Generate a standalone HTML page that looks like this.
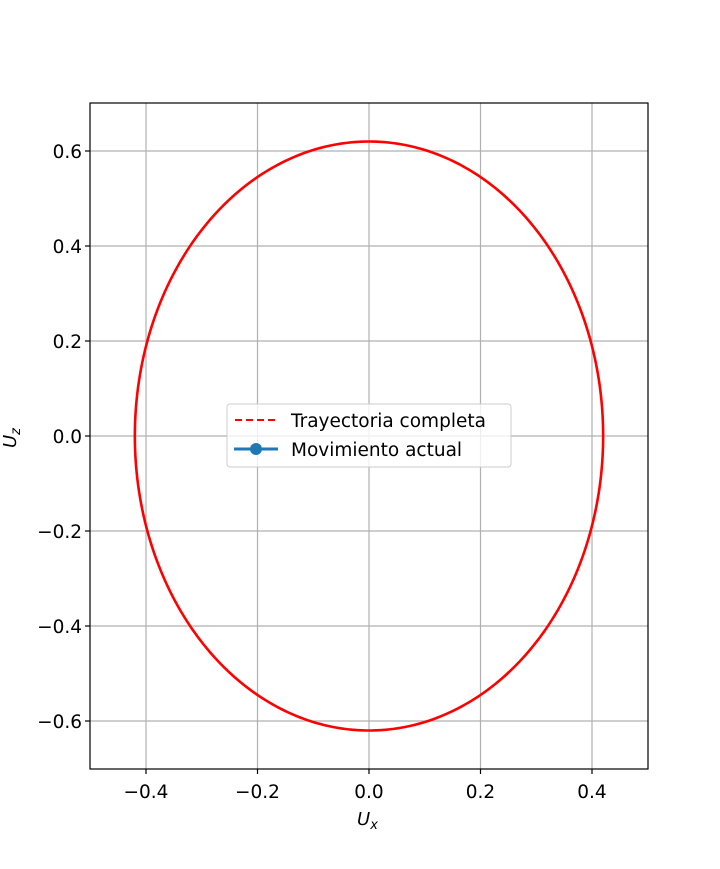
<!DOCTYPE html>
<html><head><meta charset="utf-8"><style>
body{margin:0;background:#fff}
svg text{font-family:"DejaVu Sans","Liberation Sans",sans-serif;font-size:18.5px;fill:#000}
</style></head><body>
<svg id="chart" width="720" height="864" xmlns="http://www.w3.org/2000/svg">
<rect width="720" height="864" fill="#fff"/>
<g id="grid"></g>
<g id="series"></g>
<rect x="90" y="103" width="558" height="666" fill="none" stroke="#000" stroke-width="1.2"/>
<g id="ticks"></g>
<text x="357" y="825" font-style="italic" style="font-size:18px">U<tspan style="font-size:13px" dy="4">x</tspan></text>
<text transform="translate(16,448) rotate(-90)" font-style="italic" style="font-size:18px">U<tspan style="font-size:13px" dy="4">z</tspan></text>
<g>
<rect x="227" y="404" width="284" height="63" rx="3" fill="#fff" fill-opacity="0.8" stroke="#ccc"/>
<line x1="235" y1="420" x2="278" y2="420" stroke="#f00" stroke-width="2" stroke-dasharray="7,4"/>
<text x="291" y="427">Trayectoria completa</text>
<line x1="234" y1="449" x2="278" y2="449" stroke="#1f77b4" stroke-width="3"/>
<circle cx="256" cy="449" r="6" fill="#1f77b4"/>
<text x="291" y="456">Movimiento actual</text>
</g>
</svg>
<script>
const xTicks=[-0.4,-0.2,0.0,0.2,0.4];
const xTickLabels=["−0.4","−0.2","0.0","0.2","0.4"];
const yTicks=[-0.6,-0.4,-0.2,0.0,0.2,0.4,0.6];
const yTickLabels=["−0.6","−0.4","−0.2","0.0","0.2","0.4","0.6"];
const semiAxisX=[0.42];
const semiAxisZ=[0.62];
const NS="http://www.w3.org/2000/svg";
const X=v=>369+v*557.5, Y=v=>436-v*475;
const grid=document.getElementById('grid'),ticks=document.getElementById('ticks'),series=document.getElementById('series');
function mk(tag,at,parent){const e=document.createElementNS(NS,tag);for(const k in at)e.setAttribute(k,at[k]);parent.appendChild(e);return e;}
xTicks.forEach((v,i)=>{
 const g=mk('line',{x1:X(v),x2:X(v),y1:103,y2:769,stroke:'#b0b0b0','stroke-width':1.2},grid);
 
 
 const t=mk('line',{x1:X(v),x2:X(v),y1:769,y2:774,stroke:'#000','stroke-width':1.2},ticks);
 
 
 const l=mk('text',{x:X(v),y:798,'text-anchor':'middle'},ticks);l.textContent=xTickLabels[i];
 
 
});
yTicks.forEach((v,i)=>{
 const g=mk('line',{x1:90,x2:648,y1:Y(v),y2:Y(v),stroke:'#b0b0b0','stroke-width':1.2},grid);
 
 
 const t=mk('line',{x1:85,x2:90,y1:Y(v),y2:Y(v),stroke:'#000','stroke-width':1.2},ticks);
 
 
 const l=mk('text',{x:82,y:Y(v)+7,'text-anchor':'end'},ticks);l.textContent=yTickLabels[i];
 
 
});
semiAxisX.forEach((a,i)=>{
 const b=semiAxisZ[i];let d='';
 for(let k=0;k<=360;k++){const th=k*Math.PI/180;d+=(k?'L':'M')+X(a*Math.cos(th)).toFixed(2)+','+Y(b*Math.sin(th)).toFixed(2);}
 const p=mk('path',{d:d,fill:'none',stroke:'#f00','stroke-width':2.6},series);
 
 
});
</script>
</body></html>
